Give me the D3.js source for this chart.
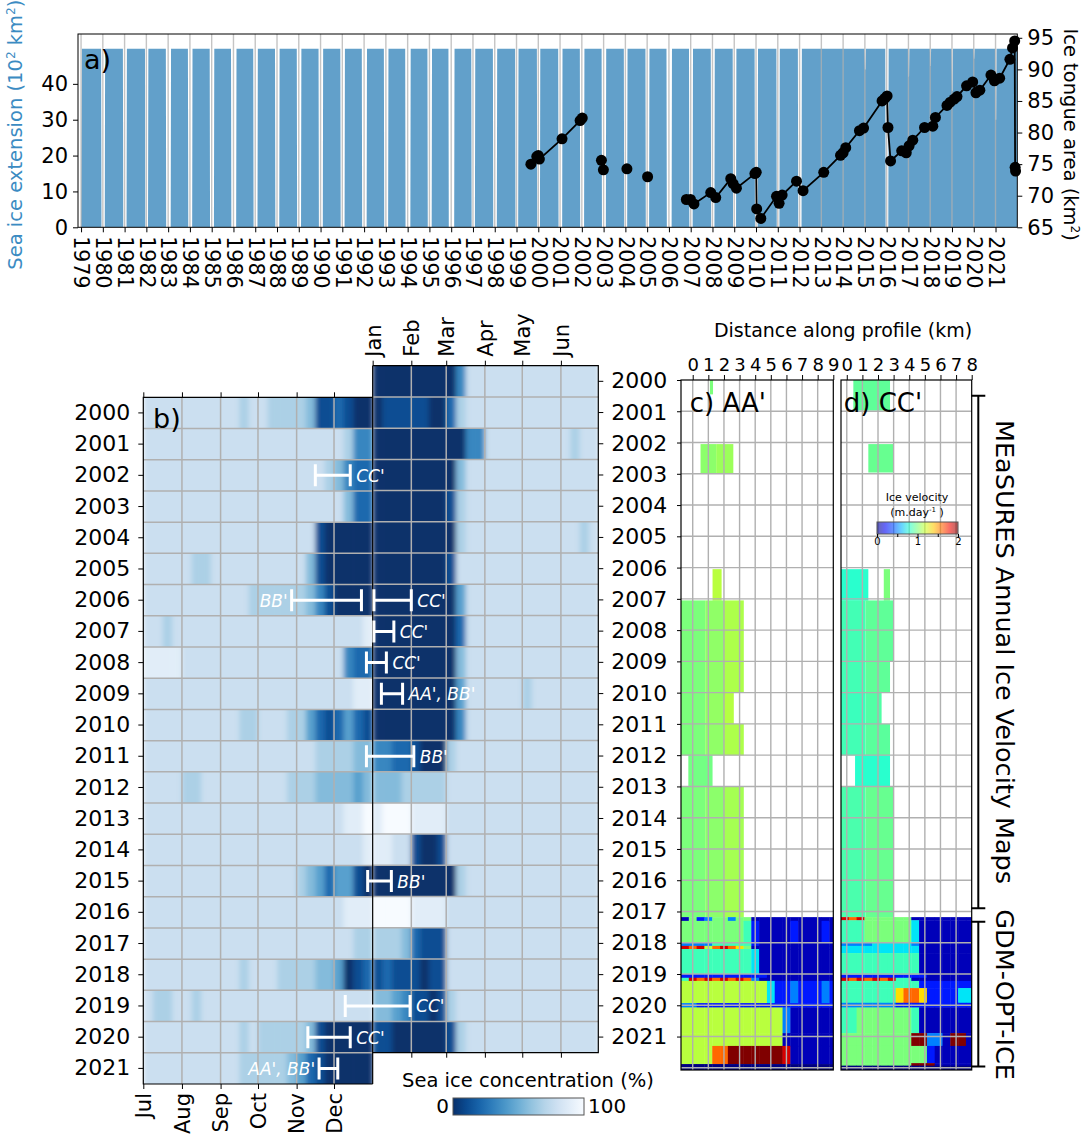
<!DOCTYPE html>
<html>
<head>
<meta charset="utf-8">
<script src="https://cdn.jsdelivr.net/npm/d3@7"></script>
<style>
  body { margin: 0; background: #fff; }
  text { font-family: "DejaVu Sans", sans-serif; }
</style>
</head>
<body>
<script>
// ---------------- data ----------------
// a) sea ice extension: summer open-water window around each 1 Jan
const extMax = 49.8;            // 10^2 km2, full ice cover
const gapMidDay = 5;            // centre of the open-water window (days after 1 Jan)
const gapRamp = 6;              // days to go from full cover to minimum
const gapYears = d3.range(1980, 2022);
const gapDays = [55, 55, 45, 75, 65, 65, 80, 65, 65, 65, 65, 65, 75, 65, 80, 65, 90, 55, 60, 45,
  45, 60, 65, 65, 50, 55, 80, 55, 55, 50, 45, 45, 55, 0, 0, 10, 45, 10, 8, 10, 6, 12];
const gapMin = [0, 0, 0, 0, 0, 0, 0, 0, 0, 0, 0, 0, 0, 0, 0, 0, 0, 0, 0, 0,
  0, 0, 0, 0, 0, 0, 0, 0, 0, 0, 0, 0, 0, 49.8, 49.8, 44, 0, 42, 45, 38, 47, 30];

// a) ice tongue area (km2), segment id -> connected points
const tongueYear = [1999.66, 1999.93, 2000.0, 2000.05, 2001.09, 2001.92, 2002.02,
  2002.90, 2002.99, 2004.07, 2005.02,
  2006.80, 2006.99, 2007.15, 2007.92, 2008.15, 2008.84, 2008.95, 2009.10, 2009.95, 2010.01,
  2010.03, 2010.22, 2010.94, 2011.06, 2011.20, 2011.86, 2012.16, 2013.11, 2013.88, 2014.00,
  2014.12, 2014.75, 2014.94, 2015.79, 2015.91, 2016.02, 2016.06, 2016.18, 2016.69, 2016.90,
  2017.03, 2017.20, 2017.74, 2018.12, 2018.24, 2018.77, 2018.92, 2019.10, 2019.23, 2019.67,
  2019.95, 2020.10, 2020.28, 2020.79, 2020.95, 2021.19, 2021.66, 2021.78, 2021.88, 2021.90, 2021.92];
const tongueArea = [75.0, 76.2, 76.35, 75.8, 79.0, 81.9, 82.3,
  75.6, 74.1, 74.25, 73.0,
  69.4, 69.4, 68.7, 70.5, 69.7, 72.7, 71.9, 71.2, 73.5, 73.7,
  67.9, 66.4, 69.9, 68.8, 70.1, 72.3, 70.8, 73.7, 76.4, 76.8,
  77.6, 80.3, 80.7, 85.0, 85.4, 85.8, 80.8, 75.5, 77.1, 76.8,
  77.9, 78.8, 80.8, 81.0, 82.4, 84.3, 84.8, 85.3, 85.7, 87.4,
  88.0, 86.3, 86.7, 89.1, 88.2, 88.6, 91.6, 93.4, 94.5, 74.5, 73.9];
const tongueSeg = [0, 0, 0, 0, 0, 0, 0, 1, 2, 3, 4,
  5, 5, 5, 5, 5, 5, 5, 5, 5, 5, 5, 5, 5, 5, 5, 5, 5, 5, 5, 5,
  5, 5, 5, 5, 5, 5, 5, 5, 5, 5, 5, 5, 5, 5, 5, 5, 5, 5, 5, 5,
  5, 5, 5, 5, 5, 5, 5, 5, 5, 5, 5];

// b) sea ice concentration, one digit per quarter month (level index into sicLevels)
const sicYears = d3.range(2000, 2022);
const sicLevels = [0, 11, 22, 33, 44, 56, 67, 78, 89, 100];
const monthsL = ['Jul', 'Aug', 'Sep', 'Oct', 'Nov', 'Dec'];
const monthsR = ['Jan', 'Feb', 'Mar', 'Apr', 'May', 'Jun'];
const sicJulDec = [
  '7777 7777 7767 7666 6511 2100', '7777 7777 7777 7777 7777 7633',
  '7777 7777 7777 7777 7776 5322', '7777 7777 7777 7777 7777 7522',
  '7777 7777 7777 7777 7710 0000', '7777 7667 7777 7777 7510 0000',
  '7777 7777 7776 6666 6531 0000', '7767 7777 7777 7777 7777 7778',
  '8888 7777 7777 7777 7777 7322', '7777 7777 7777 7777 7777 7788',
  '7777 7777 7766 7776 6421 2421', '7777 7777 7777 7777 7766 6655',
  '7777 6677 7777 7776 6655 5545', '7777 7777 7777 7777 7777 7889',
  '7777 7777 7777 7777 7777 7778', '7777 7777 7777 7777 6542 4410',
  '7777 7777 7777 7777 7777 7888', '7777 7777 7777 7777 7777 7766',
  '7777 7777 7767 7766 6655 4012', '7667 7677 7777 7777 7777 7777',
  '7777 7777 7767 6666 6510 0000', '7777 7777 7766 6665 4210 0000'];
const sicJanJun = [
  '0000 0000 0377 7777 7777 7777', '0111 1100 2677 7777 7777 7777',
  '0000 0000 0033 7777 7777 7677', '0000 0000 0577 7777 7777 7777',
  '0000 0000 1677 7777 7777 7777', '0000 0000 0677 7777 7777 7767',
  '0000 0000 1777 7777 7777 7777', '0000 0000 0477 7777 7777 7777',
  '0000 0000 0277 7777 7777 7777', '0000 0000 0577 7777 7777 7777',
  '0000 0000 0477 7777 6777 7777', '0000 0000 0377 7777 7777 7777',
  '3322 1000 6777 7777 7777 7777', '5556 6666 7777 7777 7777 7777',
  '8999 8888 7777 7777 7777 7777', '8877 1001 7777 7777 7777 7777',
  '0000 0000 0677 7777 7777 7777', '9999 8888 7777 7777 7777 7777',
  '6665 2111 7777 7777 7777 7777', '1211 1011 7777 7777 7777 7777',
  '5543 1101 6777 7777 7777 7777', '1100 0000 1677 7777 7777 7777'];

// b) profile acquisition windows (days after 1 Jul of the row year)
const annotYear = [2002, 2006, 2006, 2007, 2008, 2009, 2011, 2015, 2019, 2020, 2021];
const annotStart = [138, 119, 185, 185, 179, 191, 179, 180, 162, 132, 141];
const annotEnd = [166, 175, 215, 201, 195, 208, 217, 199, 214, 166, 156];
const annotLabel = ["CC'", "BB'", "CC'", "CC'", "CC'", "AA', BB'", "BB'", "BB'", "CC'", "CC'", "AA', BB'"];
const annotSide = ['r', 'l', 'r', 'r', 'r', 'r', 'r', 'r', 'r', 'r', 'l'];

// c, d) ice velocity (m/day). MEaSURES: [t0, t1, km0, km1, v]
const measuresC = [
  [2000.0, 2000.45, 1.1, 1.3, 1.0],
  [2002.05, 2002.97, 0.5, 1.5, 1.04], [2002.05, 2002.97, 1.5, 2.6, 1.08],
  [2006.05, 2007.05, 1.27, 1.85, 1.15],
  [2007.05, 2010.0, -0.75, 0.8, 1.0], [2007.05, 2010.0, 0.8, 2.0, 1.05], [2007.05, 2010.0, 2.0, 3.27, 1.12],
  [2010.0, 2011.0, -0.75, 0.8, 1.0], [2010.0, 2011.0, 0.8, 2.0, 1.06], [2010.0, 2011.0, 2.0, 2.63, 1.14],
  [2011.0, 2012.0, -0.75, 0.8, 1.0], [2011.0, 2012.0, 0.8, 2.0, 1.05], [2011.0, 2012.0, 2.0, 3.27, 1.12],
  [2012.0, 2013.0, -0.28, 1.27, 0.98],
  [2013.0, 2017.18, -0.75, 0.8, 1.0], [2013.0, 2017.18, 0.8, 2.0, 1.04], [2013.0, 2017.18, 2.0, 3.27, 1.1]];
const measuresD = [
  [2000.0, 2000.97, 0.42, 2.77, 0.93],
  [2002.05, 2002.95, 1.38, 3.0, 0.95],
  [2006.05, 2007.05, -0.37, 1.38, 0.8], [2006.05, 2007.05, 2.37, 2.77, 1.0],
  [2007.05, 2009.0, -0.37, 1.2, 0.86], [2007.05, 2009.0, 1.2, 3.0, 0.93],
  [2009.0, 2010.0, -0.37, 1.2, 0.86], [2009.0, 2010.0, 1.2, 2.77, 0.93],
  [2010.0, 2011.0, -0.37, 1.2, 0.84], [2010.0, 2011.0, 1.2, 2.23, 0.9],
  [2011.0, 2012.0, -0.37, 1.2, 0.86], [2011.0, 2012.0, 1.2, 2.77, 0.92],
  [2012.0, 2013.0, 0.53, 2.77, 0.8],
  [2013.0, 2017.18, -0.37, 1.2, 0.88], [2013.0, 2017.18, 1.2, 3.0, 0.95]];

// GDM-OPT-ICE: [t0, t1, codes], one code per 0.5 km bin from the panel's left edge
const velCodes = { '0': 0.0, '1': 0.1, '2': 0.3, '3': 0.5, '4': 0.7, '5': 0.85, '6': 1.0,
  '7': 1.15, '8': 1.35, '9': 1.6, 'r': 1.85, 'd': 2.0 };
const gdmC = [
  [2017.18, 2017.30, '16236636611111111111'],
  [2017.30, 2018.00, '66666666521111211121'],
  [2018.00, 2018.10, '33335555521111111111'],
  [2018.10, 2018.20, 'r9r79r98611111111111'],
  [2018.20, 2019.00, '55555555541111111111'],
  [2019.00, 2019.12, '22222222222111111111'],
  [2019.12, 2019.22, '5r9r9r9r931111111111'],
  [2019.22, 2019.93, '77777777777422322232'],
  [2019.93, 2020.07, '33222222222222222222'],
  [2020.07, 2020.89, '77777777777773111111'],
  [2020.89, 2021.30, '77777777777771111111'],
  [2021.30, 2021.88, '777799dddddddr111111'],
  [2021.88, 2022.07, '00000000000000000000']];
const gdmD = [
  [2017.18, 2017.28, 'r9r66666611111111'],
  [2017.28, 2018.00, '55566666641111111'],
  [2018.00, 2018.10, '33334444431111111'],
  [2018.10, 2018.33, '44444444441111111'],
  [2018.33, 2019.02, '55555555551111111'],
  [2019.02, 2019.12, '22222222222111111'],
  [2019.12, 2019.22, 'r9r9r9r5511111111'],
  [2019.22, 2019.45, '55555555552222222'],
  [2019.45, 2019.92, '55555558998222244'],
  [2019.92, 2020.07, '33333332222222222'],
  [2020.07, 2020.89, '55666666651111111'],
  [2020.89, 2021.30, '666666666dd331dd1'],
  [2021.30, 2021.85, '66666666666211111'],
  [2021.85, 2021.93, '666666666ddd11111'],
  [2021.93, 2022.07, '00000000000000000']];

// ---------------- helpers ----------------
const svg = d3.select('body').append('svg').attr('width', 1084).attr('height', 1136);
const defs = svg.append('defs');
const gridCol = '#b0b0b0';

function styleAxis(g, size) {
  g.select('.domain').remove();
  g.selectAll('.tick line').attr('stroke', '#000').attr('stroke-width', 1);
  g.selectAll('.tick text').attr('fill', '#000').style('font-size', size + 'px');
}

// jet colormap (matplotlib)
const jetR = d3.scaleLinear().domain([0, 0.35, 0.66, 0.89, 1]).range([0, 0, 1, 1, 0.5]).clamp(true);
const jetG = d3.scaleLinear().domain([0, 0.125, 0.375, 0.64, 0.91, 1]).range([0, 0, 1, 1, 0, 0]).clamp(true);
const jetB = d3.scaleLinear().domain([0, 0.11, 0.34, 0.65, 1]).range([0.5, 1, 1, 0, 0]).clamp(true);
const jet = t => d3.rgb(jetR(t) * 255, jetG(t) * 255, jetB(t) * 255).toString();
const velColor = v => jet(v / 2);
const sicColor = v => d3.interpolateBlues(1 - v / 100);

// ================= panel a =================
const pa = { l: 78, r: 1017.3, t: 34, b: 227.3 };
const xA = d3.scaleLinear().domain([1978.86, 2022.0]).range([pa.l, pa.r]);
const yExt = d3.scaleLinear().domain([0, 53.9]).range([pa.b, pa.t]);
const yTon = d3.scaleLinear().domain([65, 95.6]).range([pa.b, pa.t]);

defs.append('clipPath').attr('id', 'clipA').append('rect')
  .attr('x', pa.l).attr('y', pa.t).attr('width', pa.r - pa.l).attr('height', pa.b - pa.t);

const extPts = [[1979.0, 0], [1979.04, extMax]];
gapYears.forEach((yr, i) => {
  if (gapMin[i] >= extMax) return;
  const c = yr + gapMidDay / 365, h = gapDays[i] / 2 / 365, r = gapRamp / 365;
  extPts.push([c - h - r, extMax], [c - h, gapMin[i]], [c + h, gapMin[i]], [c + h + r, extMax]);
});
extPts.push([2022.0, extMax]);

const ga = svg.append('g');
ga.append('path').datum(extPts).attr('clip-path', 'url(#clipA)')
  .attr('fill', '#1f77b4').attr('fill-opacity', 0.7)
  .attr('d', d3.area().x(d => xA(d[0])).y0(yExt(0)).y1(d => yExt(d[1])));

ga.append('g').selectAll('line').data(d3.range(1979, 2022)).join('line')
  .attr('x1', d => xA(d)).attr('x2', d => xA(d)).attr('y1', pa.t).attr('y2', pa.b)
  .attr('stroke', gridCol).attr('stroke-opacity', 0.75).attr('stroke-width', 1.4);

const tongue = tongueYear.map((t, i) => ({ t, a: tongueArea[i], s: tongueSeg[i] }));
const tLine = d3.line().x(d => xA(d.t)).y(d => yTon(d.a));
d3.groups(tongue, d => d.s).forEach(([, pts]) => {
  if (pts.length > 1) ga.append('path').attr('d', tLine(pts)).attr('fill', 'none')
    .attr('stroke', '#000').attr('stroke-width', 1.8);
});
ga.append('g').selectAll('circle').data(tongue).join('circle')
  .attr('cx', d => xA(d.t)).attr('cy', d => yTon(d.a)).attr('r', 5.5).attr('fill', '#000');

ga.append('rect').attr('x', pa.l).attr('y', pa.t).attr('width', pa.r - pa.l).attr('height', pa.b - pa.t)
  .attr('fill', 'none').attr('stroke', '#000').attr('stroke-width', 1);

const axA = ga.append('g').attr('transform', `translate(0,${pa.b})`)
  .call(d3.axisBottom(xA).tickValues(d3.range(1979, 2022)).tickFormat(d3.format('d')).tickSize(5));
styleAxis(axA, 20.5);
axA.selectAll('.tick text').attr('transform', 'rotate(90)').attr('x', 9).attr('y', 0)
  .attr('dy', '0.35em').style('text-anchor', 'start');

const axL = ga.append('g').attr('transform', `translate(${pa.l},0)`)
  .call(d3.axisLeft(yExt).tickValues([0, 10, 20, 30, 40]).tickSize(5).tickPadding(5));
styleAxis(axL, 21);
const axR = ga.append('g').attr('transform', `translate(${pa.r},0)`)
  .call(d3.axisRight(yTon).tickValues([65, 70, 75, 80, 85, 90, 95]).tickSize(5).tickPadding(5));
styleAxis(axR, 21);

function labelWithSup(g, parts, size, color) {
  const t = g.append('text').attr('fill', color).style('font-size', size + 'px').attr('text-anchor', 'middle');
  parts.forEach(p => {
    const s = t.append('tspan').text(p[0]);
    if (p[1]) s.attr('baseline-shift', 'super').style('font-size', (size * 0.62) + 'px');
  });
  return t;
}
labelWithSup(ga, [['Sea ice extension (10'], ['2', 1], [' km'], ['2', 1], [')']], 19.5, '#3b8bc2')
  .attr('transform', `translate(22,${(pa.t + pa.b) / 2 + 4}) rotate(-90)`);
labelWithSup(ga, [['Ice tongue area (km'], ['2', 1], [')']], 19.5, '#000')
  .attr('transform', `translate(1064,${(pa.t + pa.b) / 2 + 4}) rotate(90)`);
ga.append('text').attr('x', 84).attr('y', 69).text('a)').style('font-size', '27px');

// ================= panel b =================
const pb = { x0: 143.3, x1: 598.3, topL: 397.3, botL: 1084, topR: 365.7, botR: 1052.7 };
const xB = d3.scaleTime().domain([new Date(2001, 6, 1), new Date(2002, 6, 1)]).range([pb.x0, pb.x1]);
const xMid = xB(new Date(2002, 0, 1));
const yL = d3.scaleBand().domain(sicYears).range([pb.topL, pb.botL]);
const yR = d3.scaleBand().domain(sicYears).range([pb.topR, pb.botR]);

function sicCells(strs, refYear, m0) {
  const out = [];
  strs.forEach((s, i) => {
    const codes = s.replace(/ /g, '');
    for (let m = 0; m < 6; m++) {
      const a = new Date(refYear, m0 + m, 1), b = new Date(refYear, m0 + m + 1, 1);
      for (let q = 0; q < 4; q++) {
        out.push({ year: sicYears[i],
          t0: new Date(+a + (b - a) * q / 4), t1: new Date(+a + (b - a) * (q + 1) / 4),
          v: sicLevels[+codes[m * 4 + q]] });
      }
    }
  });
  return out;
}

const blur = defs.append('filter').attr('id', 'hblur')
  .attr('x', 0).attr('y', 0).attr('width', 1).attr('height', 1);
blur.append('feGaussianBlur').attr('stdDeviation', '2.5 0').attr('edgeMode', 'duplicate');

defs.append('clipPath').attr('id', 'clipBL').append('rect')
  .attr('x', pb.x0).attr('y', pb.topL).attr('width', xMid - pb.x0).attr('height', pb.botL - pb.topL);
defs.append('clipPath').attr('id', 'clipBR').append('rect')
  .attr('x', xMid).attr('y', pb.topR).attr('width', pb.x1 - xMid).attr('height', pb.botR - pb.topR);

const gb = svg.append('g');
[[sicCells(sicJulDec, 2001, 6), yL, 'clipBL'], [sicCells(sicJanJun, 2002, 0), yR, 'clipBR']]
  .forEach(([cells, ys, clip]) => {
    gb.append('g').attr('clip-path', `url(#${clip})`).append('g').attr('filter', 'url(#hblur)')
      .selectAll('rect').data(cells).join('rect')
      .attr('x', d => xB(d.t0)).attr('width', d => xB(d.t1) - xB(d.t0) + 0.6)
      .attr('y', d => ys(d.year)).attr('height', ys.bandwidth() + 0.5)
      .attr('fill', d => sicColor(d.v));
  });

// grid
const monthStartsL = d3.range(7, 12).map(m => new Date(2001, m, 1));
const monthStartsR = d3.range(1, 6).map(m => new Date(2002, m, 1));
const gGrid = gb.append('g').attr('stroke', gridCol).attr('stroke-width', 1.5);
monthStartsL.forEach(d => gGrid.append('line').attr('x1', xB(d)).attr('x2', xB(d)).attr('y1', pb.topL).attr('y2', pb.botL));
monthStartsR.forEach(d => gGrid.append('line').attr('x1', xB(d)).attr('x2', xB(d)).attr('y1', pb.topR).attr('y2', pb.botR));
sicYears.slice(1).forEach(y => {
  gGrid.append('line').attr('x1', pb.x0).attr('x2', xMid).attr('y1', yL(y)).attr('y2', yL(y));
  gGrid.append('line').attr('x1', xMid).attr('x2', pb.x1).attr('y1', yR(y)).attr('y2', yR(y));
});

// frames
const gf = gb.append('g').attr('stroke', '#000').attr('stroke-width', 1.2).attr('fill', 'none');
gf.append('path').attr('d', `M${xMid},${pb.topL}H${pb.x0}V${pb.botL}H${xMid}`);
gf.append('path').attr('d', `M${xMid},${pb.topR}H${pb.x1}V${pb.botR}H${xMid}`);
gf.append('line').attr('x1', xMid).attr('x2', xMid).attr('y1', pb.topR).attr('y2', pb.botL);

// axes
const yFmt = d3.format('d');
const axBL = gb.append('g').attr('transform', `translate(${pb.x0},0)`)
  .call(d3.axisLeft(yL).tickFormat(yFmt).tickSize(5).tickPadding(8));
styleAxis(axBL, 22);
const axBR = gb.append('g').attr('transform', `translate(${pb.x1},0)`)
  .call(d3.axisRight(yR).tickFormat(yFmt).tickSize(5).tickPadding(8));
styleAxis(axBR, 22);

const ticksL = d3.range(6, 12).map(m => new Date(2001, m, 1));
const ticksR = d3.range(0, 6).map(m => new Date(2002, m, 1));
const axBB = gb.append('g').attr('transform', `translate(0,${pb.botL})`)
  .call(d3.axisBottom(xB).tickValues(ticksL).tickFormat((d, i) => monthsL[i]).tickSize(5));
styleAxis(axBB, 21);
axBB.selectAll('.tick text').attr('transform', 'rotate(-90)').attr('x', -9).attr('y', 0)
  .attr('dy', '0.35em').style('text-anchor', 'end');
const axBT = gb.append('g').attr('transform', `translate(0,${pb.topR})`)
  .call(d3.axisTop(xB).tickValues(ticksR).tickFormat((d, i) => monthsR[i]).tickSize(5));
styleAxis(axBT, 21);
axBT.selectAll('.tick text').attr('transform', 'rotate(-90)').attr('x', 9).attr('y', 0)
  .attr('dy', '0.35em').style('text-anchor', 'start');
const axBLT = gb.append('g').attr('transform', `translate(0,${pb.topL})`)
  .call(d3.axisTop(xB).tickValues(ticksL).tickFormat('').tickSize(5));
styleAxis(axBLT, 10);
const axBRB = gb.append('g').attr('transform', `translate(0,${pb.botR})`)
  .call(d3.axisBottom(xB).tickValues(ticksR.slice(1)).tickFormat('').tickSize(5));
styleAxis(axBRB, 10);

// acquisition windows
const jul1 = new Date(2001, 6, 1);
const gAn = gb.append('g');
annotYear.forEach((yr, i) => {
  const x0 = xB(d3.timeDay.offset(jul1, annotStart[i])), x1 = xB(d3.timeDay.offset(jul1, annotEnd[i]));
  const yc = yL(yr) + yL.bandwidth() / 2;
  gAn.append('path').attr('d', `M${x0},${yc - 11}V${yc + 11}M${x0},${yc}H${x1}M${x1},${yc - 11}V${yc + 11}`)
    .attr('stroke', '#fff').attr('stroke-width', 3).attr('fill', 'none');
  gAn.append('text').text(annotLabel[i])
    .attr('x', annotSide[i] === 'r' ? x1 + 6 : x0 - 4).attr('y', yc + 6.5)
    .attr('text-anchor', annotSide[i] === 'r' ? 'start' : 'end')
    .attr('fill', '#fff').style('font-size', '17px').style('font-style', 'italic');
});
gb.append('text').attr('x', 153).attr('y', 428).text('b)').style('font-size', '27px');

// colorbar
const cb = { x0: 453, x1: 584, y: 1098, h: 17 };
const gradB = defs.append('linearGradient').attr('id', 'gradSic');
d3.range(0, 101, 10).forEach(v => gradB.append('stop').attr('offset', v + '%').attr('stop-color', sicColor(v)));
const xCb = d3.scaleLinear().domain([0, 100]).range([cb.x0, cb.x1]);
gb.append('rect').attr('x', xCb(0)).attr('y', cb.y).attr('width', xCb(100) - xCb(0)).attr('height', cb.h)
  .attr('fill', 'url(#gradSic)').attr('stroke', '#555').attr('stroke-width', 1);
gb.append('text').attr('x', xCb(0) - 4).attr('y', cb.y + 14.5).attr('text-anchor', 'end').text('0').style('font-size', '20px');
gb.append('text').attr('x', xCb(100) + 4).attr('y', cb.y + 14.5).text('100').style('font-size', '20px');
gb.append('text').attr('x', 528).attr('y', 1087).attr('text-anchor', 'middle')
  .text('Sea ice concentration (%)').style('font-size', '19.5px');

// ================= panels c, d =================
const yCD = d3.scaleLinear().domain([2000, 2022.07]).range([380, 1070]);
const panels = [
  { id: 'C', x: d3.scaleLinear().domain([-0.75, 9]).range([681, 833.3]), kmMax: 9, meas: measuresC, gdm: gdmC, title: "c) AA'" },
  { id: 'D', x: d3.scaleLinear().domain([-0.37, 8]).range([841, 971.7]), kmMax: 8, meas: measuresD, gdm: gdmD, title: "d) CC'" }];

panels.forEach(p => {
  const [l, r] = p.x.range(), [t, b] = yCD.range();
  defs.append('clipPath').attr('id', 'clip' + p.id).append('rect')
    .attr('x', l).attr('y', t).attr('width', r - l).attr('height', b - t);
  const g = svg.append('g');
  const gd = g.append('g').attr('clip-path', `url(#clip${p.id})`);
  gd.selectAll('rect.m').data(p.meas).join('rect').attr('class', 'm')
    .attr('x', d => p.x(d[2])).attr('width', d => p.x(d[3]) - p.x(d[2]))
    .attr('y', d => yCD(d[0])).attr('height', d => yCD(d[1]) - yCD(d[0]) + 0.3)
    .attr('fill', d => velColor(d[4]));
  const k0 = p.x.domain()[0];
  const cells = [];
  p.gdm.forEach(row => row[2].split('').forEach((c, k) =>
    cells.push({ t0: row[0], t1: row[1], a: k0 + 0.5 * k, b: k0 + 0.5 * (k + 1), v: velCodes[c] })));
  gd.selectAll('rect.g').data(cells).join('rect').attr('class', 'g')
    .attr('x', d => p.x(d.a)).attr('width', d => p.x(d.b) - p.x(d.a) + 0.4)
    .attr('y', d => yCD(d.t0)).attr('height', d => yCD(d.t1) - yCD(d.t0) + 0.4)
    .attr('fill', d => velColor(d.v));
  // grid
  const gg = g.append('g').attr('stroke', gridCol).attr('stroke-width', 1.4);
  d3.range(0, p.kmMax).forEach(k => gg.append('line').attr('x1', p.x(k)).attr('x2', p.x(k)).attr('y1', t).attr('y2', b));
  d3.range(2001, 2023).forEach(y => gg.append('line').attr('x1', l).attr('x2', r).attr('y1', yCD(y)).attr('y2', yCD(y)));
  g.append('rect').attr('x', l).attr('y', t).attr('width', r - l).attr('height', b - t)
    .attr('fill', 'none').attr('stroke', '#000').attr('stroke-width', 1.2);
  const axT = g.append('g').attr('transform', `translate(0,${t})`)
    .call(d3.axisTop(p.x).tickValues(d3.range(0, p.kmMax + 1)).tickSize(5).tickPadding(4));
  styleAxis(axT, 18);
  g.append('text').attr('x', p.x(0) - 3).attr('y', 412).text(p.title).style('font-size', '26px');
});
const axCL = svg.append('g').attr('transform', `translate(681,0)`)
  .call(d3.axisLeft(yCD).tickValues(d3.range(2000, 2022)).tickFormat('').tickSize(4));
styleAxis(axCL, 10);
svg.append('text').attr('x', 843).attr('y', 337).attr('text-anchor', 'middle')
  .text('Distance along profile (km)').style('font-size', '19px');

// velocity legend
const vl = { x0: 877, x1: 958, y: 522, h: 12 };
const xV = d3.scaleLinear().domain([0, 2]).range([vl.x0, vl.x1]);
const gradV = defs.append('linearGradient').attr('id', 'gradVel');
d3.range(0, 1.01, 0.1).forEach(t => gradV.append('stop').attr('offset', (t * 100) + '%').attr('stop-color', jet(t)));
const gv = svg.append('g');
gv.append('rect').attr('x', xV(0)).attr('y', vl.y).attr('width', xV(2) - xV(0)).attr('height', vl.h)
  .attr('fill', 'url(#gradVel)').attr('fill-opacity', 0.6).attr('stroke', '#555').attr('stroke-width', 1);
const axV = gv.append('g').attr('transform', `translate(0,${vl.y + vl.h})`)
  .call(d3.axisBottom(xV).tickValues([0, 0.5, 1, 1.5, 2]).tickFormat(d => Number.isInteger(d) ? d : '').tickSize(3).tickPadding(1));
styleAxis(axV, 10);
gv.append('text').attr('x', 917).attr('y', 501).attr('text-anchor', 'middle').text('Ice velocity').style('font-size', '11px');
const vt = gv.append('text').attr('x', 917).attr('y', 516).attr('text-anchor', 'middle').style('font-size', '11px');
vt.append('tspan').text('(m.day');
vt.append('tspan').text('-1').attr('baseline-shift', 'super').style('font-size', '7px');
vt.append('tspan').text(' )');

// brackets
const brX = 978.3;
const gbr = svg.append('g').attr('stroke', '#000').attr('stroke-width', 2).attr('fill', 'none');
[[2000.5, 2016.9], [2017.33, 2021.96]].forEach(([a, b]) => {
  gbr.append('path').attr('d', `M${brX - 7},${yCD(a)}H${brX + 7}M${brX},${yCD(a)}V${yCD(b)}M${brX - 7},${yCD(b)}H${brX + 7}`);
});
svg.append('text').attr('transform', `translate(1005,${yCD(2008.7)}) rotate(90)`).attr('dy', '0.35em')
  .attr('text-anchor', 'middle').text('MEaSURES Annual Ice Velocity Maps').style('font-size', '25.5px');
svg.append('text').attr('transform', `translate(1005,${yCD(2019.66)}) rotate(90)`).attr('dy', '0.35em')
  .attr('text-anchor', 'middle').text('GDM-OPT-ICE').style('font-size', '25.5px');
</script>
</body>
</html>
